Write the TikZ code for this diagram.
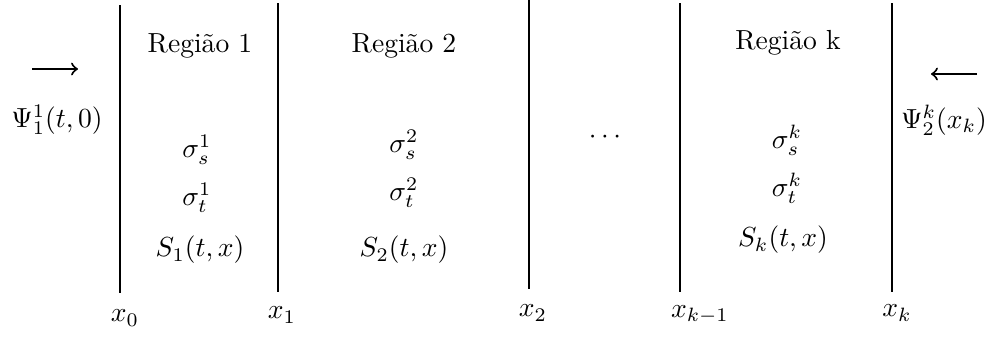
\documentclass[tikz,border=0pt]{standalone}
\usetikzlibrary{arrows.meta}
\begin{document}
\begin{tikzpicture}[x=0.1274mm, y=-0.1274mm,
  wall/.style={line width=0.95pt},
  lbl/.style={inner sep=0pt, anchor=center},
  flux/.style={line width=0.75pt, -to}]
\useasboundingbox (0,0) rectangle (989,336);
% walls
\coordinate (w0t) at (120,5);   \coordinate (w0b) at (120,293);
\coordinate (w1t) at (278,3);   \coordinate (w1b) at (278,292);
\coordinate (w2t) at (529,0);   \coordinate (w2b) at (529,289);
\coordinate (w3t) at (680,3);   \coordinate (w3b) at (680,292);
\coordinate (w4t) at (892,3);   \coordinate (w4b) at (892,292);
\draw[wall] (w0t) -- (w0b);
\draw[wall] (w1t) -- (w1b);
\draw[wall] (w2t) -- (w2b);
\draw[wall] (w3t) -- (w3b);
\draw[wall] (w4t) -- (w4b);
% position labels
\node[lbl] (x0) at (125,318) {$x_0$};
\node[lbl] (x1) at (282,315) {$x_1$};
\node[lbl] (x2) at (533,313) {$x_2$};
\node[lbl] (xkm) at (700,315) {$x_{k-1}$};
\node[lbl] (xk) at (897,313) {$x_k$};
% region 1
\node[lbl] (r1) at (200,46) {Região 1};
\node[lbl] (s1) at (197,150) {$\sigma_s^1$};
\node[lbl] (t1) at (197,198) {$\sigma_t^1$};
\node[lbl] (S1) at (200,250) {$S_1(t,x)$};
% region 2
\node[lbl] (r2) at (404,46) {Região 2};
\node[lbl] (s2) at (404,145) {$\sigma_s^2$};
\node[lbl] (t2) at (404,193) {$\sigma_t^2$};
\node[lbl] (S2) at (404,250) {$S_2(t,x)$};
% dots
\node[lbl] (dots) at (605,137) {$\cdots$};
% region k
\node[lbl] (rk) at (788,43) {Região k};
\node[lbl] (sk) at (787,140) {$\sigma_s^k$};
\node[lbl] (tk) at (787,188) {$\sigma_t^k$};
\node[lbl] (Sk) at (783,240) {$S_k(t,x)$};
% incoming fluxes
\coordinate (la) at (32,69); \coordinate (lb) at (78,69);
\draw[flux] (la) -- (lb);
\node[lbl] (psi1) at (57,120) {$\Psi_1^1(t,0)$};
\coordinate (ra) at (977,74); \coordinate (rb) at (931,74);
\draw[flux] (ra) -- (rb);
\node[lbl] (psik) at (944,120) {$\Psi_2^k(x_k)$};
\end{tikzpicture}
\end{document}
